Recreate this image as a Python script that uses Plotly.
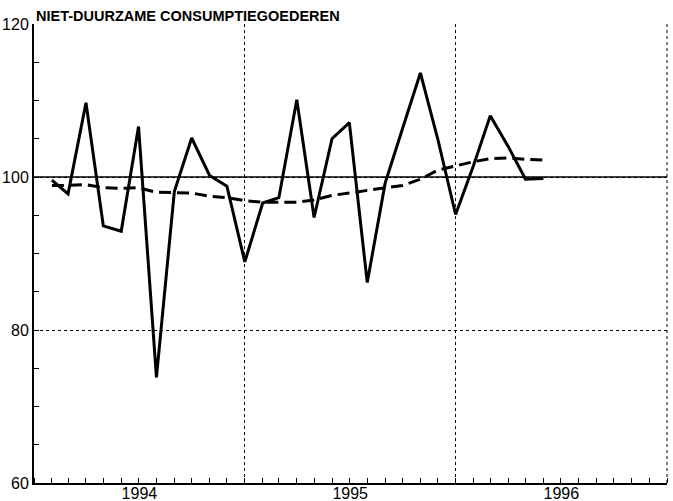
import plotly.graph_objects as go
import pandas as pd

months = pd.date_range("1994-02-01", periods=29, freq="MS").strftime("%Y-%m-%d").tolist()

index_values = [99.6, 97.8, 109.7, 93.6, 92.9, 106.6, 73.8, 98.1, 105.1, 100.2,
                98.8, 88.9, 96.6, 97.3, 110.1, 94.7, 105.0, 107.1, 86.2, 99.2,
                106.3, 113.6, 105.0, 95.1, 101.5, 108.0, 104.0, 99.7, 99.8]

trend_values = [98.9, 98.9, 99.0, 98.6, 98.5, 98.6, 98.0, 97.9, 97.9, 97.5,
                97.3, 96.9, 96.7, 96.7, 96.7, 97.0, 97.6, 97.9, 98.3, 98.6,
                98.9, 99.7, 100.9, 101.5, 102.0, 102.4, 102.5, 102.3, 102.2]

y_ticks = [60, 80, 100, 120]
title_text = "NIET-DUURZAME CONSUMPTIEGOEDEREN"

FONT = "Liberation Sans, Arial, sans-serif"

fig = go.Figure()
fig.add_trace(go.Scatter(x=months, y=trend_values, mode="lines",
                         line=dict(color="black", width=3, dash="12px,6px"),
                         showlegend=False, hoverinfo="skip"))
fig.add_trace(go.Scatter(x=months, y=index_values, mode="lines",
                         line=dict(color="black", width=3),
                         showlegend=False, hoverinfo="skip"))

# reference line at 100
fig.add_shape(type="line", xref="paper", x0=0, x1=1, yref="y", y0=100, y1=100,
              line=dict(color="black", width=1.6), layer="below")
# dotted right frame
fig.add_shape(type="line", xref="paper", x0=1, x1=1, yref="paper", y0=0, y1=1,
              line=dict(color="black", width=1, dash="dot"), layer="below")

fig.update_xaxes(
    type="date",
    range=["1994-01-01", "1997-01-01"],
    dtick="M12", tick0="1994-01-01",
    tickformat="%Y", ticklabelmode="period",
    ticks="inside", ticklen=5, tickcolor="black", tickwidth=1,
    showgrid=True, gridcolor="black", griddash="dot", gridwidth=1,
    showline=True, linecolor="black", linewidth=2,
    minor=dict(dtick="M1", ticks="inside", ticklen=5, tickcolor="black",
               tickwidth=1, showgrid=False),
    tickfont=dict(family=FONT, size=16, color="black"),
    ticklabelstandoff=-5,
    zeroline=False, automargin=False,
)
fig.update_yaxes(
    range=[60, 120],
    tickvals=y_ticks,
    ticks="inside", ticklen=5, tickcolor="black", tickwidth=1,
    showgrid=True, gridcolor="black", griddash="dot", gridwidth=1,
    showline=True, linecolor="black", linewidth=2,
    minor=dict(dtick=5, ticks="inside", ticklen=5, tickcolor="black",
               tickwidth=1, showgrid=False),
    tickfont=dict(family=FONT, size=16, color="black"),
    zeroline=False, automargin=False,
)

fig.update_layout(
    width=673, height=501,
    margin=dict(l=34, r=6, t=24, b=18),
    plot_bgcolor="white", paper_bgcolor="white",
    title=dict(text="<b>" + title_text + "</b>", x=36 / 673, xanchor="left",
               y=1 - 16 / 501, yanchor="middle", xref="container", yref="container",
               font=dict(family=FONT, size=14.5, color="black")),
)

fig.write_html("out.html", config={"displayModeBar": False},
               post_script="document.body.style.margin='0';document.body.style.padding='0';")
